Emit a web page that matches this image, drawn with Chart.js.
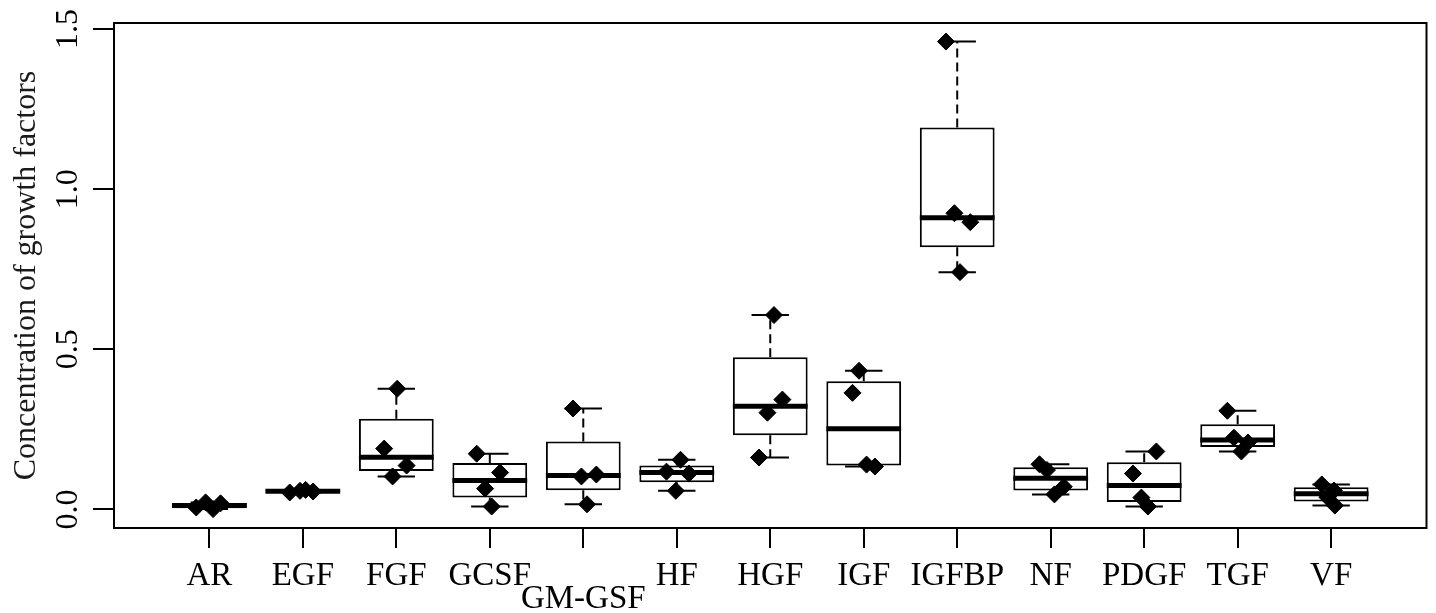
<!DOCTYPE html>
<html>
<head>
<meta charset="utf-8">
<script src="https://cdn.jsdelivr.net/npm/chart.js@4.4.1/dist/chart.umd.min.js"></script>
<style>
  html, body { margin: 0; padding: 0; background: #fff; }
  #wrap { width: 1436px; height: 613px; position: relative; }
</style>
</head>
<body>
<div id="wrap"><canvas id="growthChart"></canvas></div>
<script>
const categories = ['AR', 'EGF', 'FGF', 'GCSF', 'GM-GSF', 'HF', 'HGF', 'IGF', 'IGFBP', 'NF', 'PDGF', 'TGF', 'VF'];
const loweredLabels = ['GM-GSF'];
const yTickValues = [0, 0.5, 1.0, 1.5];

// box statistics
const whiskerLow  = [0.001, 0.053, 0.103, 0.009, 0.016, 0.058, 0.162, 0.134, 0.741, 0.047, 0.009, 0.181, 0.012];
const boxLow      = [0.004, 0.055, 0.120, 0.037, 0.060, 0.085, 0.232, 0.137, 0.819, 0.059, 0.023, 0.195, 0.025];
const medians     = [0.012, 0.057, 0.163, 0.090, 0.106, 0.115, 0.322, 0.252, 0.911, 0.097, 0.075, 0.217, 0.049];
const boxHigh     = [0.020, 0.060, 0.283, 0.145, 0.212, 0.137, 0.475, 0.400, 1.193, 0.132, 0.147, 0.266, 0.069];
const whiskerHigh = [0.022, 0.061, 0.377, 0.174, 0.315, 0.155, 0.607, 0.433, 1.461, 0.141, 0.181, 0.308, 0.078];

// the four measurements per factor and their sideways jitter (in category units)
const samples = [
  [0.006, 0.022, 0.001, 0.019],
  [0.053, 0.058, 0.061, 0.056],
  [0.190, 0.103, 0.377, 0.137],
  [0.174, 0.065, 0.009, 0.115],
  [0.315, 0.103, 0.016, 0.109],
  [0.118, 0.058, 0.155, 0.112],
  [0.162, 0.302, 0.607, 0.343],
  [0.364, 0.433, 0.140, 0.134],
  [1.461, 0.925, 0.741, 0.897],
  [0.141, 0.123, 0.047, 0.071],
  [0.112, 0.037, 0.009, 0.181],
  [0.308, 0.224, 0.181, 0.209],
  [0.078, 0.038, 0.059, 0.012]
];
const jitter = [
  [-0.14, -0.04, 0.04, 0.12],
  [-0.14, -0.03, 0.03, 0.11],
  [-0.13, -0.04, 0.01, 0.11],
  [-0.14, -0.05, 0.02, 0.11],
  [-0.11, -0.02, 0.04, 0.14],
  [-0.11, -0.01, 0.04, 0.13],
  [-0.12, -0.03, 0.04, 0.13],
  [-0.12, -0.05, 0.03, 0.12],
  [-0.12, -0.03, 0.03, 0.14],
  [-0.12, -0.04, 0.04, 0.14],
  [-0.12, -0.03, 0.04, 0.13],
  [-0.11, -0.04, 0.04, 0.11],
  [-0.10, -0.04, 0.03, 0.04]
];

const FONT = 'Liberation Serif, Times New Roman, serif';
const pos = categories.map((c, i) => i + 1);

const boxData = pos.map((x, i) => ({ x: x, y: [boxLow[i], boxHigh[i]] }));
const medianData = pos.map((x, i) => ({ x: x, y: medians[i] }));
const capData = pos.flatMap((x, i) => [{ x: x, y: whiskerLow[i] }, { x: x, y: whiskerHigh[i] }]);
const whiskerData = pos.flatMap((x, i) => [
  { x: x, y: boxHigh[i] }, { x: x, y: whiskerHigh[i] }, { x: x, y: null },
  { x: x, y: boxLow[i] }, { x: x, y: whiskerLow[i] }, { x: x, y: null }
]);
const pointData = samples.flatMap((vals, i) => vals.map((v, j) => ({ x: pos[i] + jitter[i][j], y: v })));

// pixels per category on the x scale
function unitPx(chart) {
  const sx = chart.scales.x;
  return sx.getPixelForValue(1) - sx.getPixelForValue(0);
}

const framePlugin = {
  id: 'frame',
  beforeDraw(chart) {
    const ctx = chart.ctx;
    ctx.save();
    ctx.fillStyle = '#fff';
    ctx.fillRect(0, 0, chart.width, chart.height);
    ctx.restore();
  },
  beforeDatasetsDraw(chart) {
    const { left, top, right, bottom } = chart.chartArea;
    const ctx = chart.ctx;
    ctx.save();
    ctx.strokeStyle = '#000';
    ctx.lineWidth = 2;
    ctx.strokeRect(left, top, right - left, bottom - top);
    ctx.restore();
  }
};

new Chart(document.getElementById('growthChart'), {
  type: 'scatter',
  data: {
    datasets: [
      {
        type: 'scatter',
        data: pointData,
        order: 1,
        pointStyle: 'rectRot',
        pointRadius: 8.5,
        pointBackgroundColor: '#000',
        pointBorderColor: '#000',
        pointBorderWidth: 1
      },
      {
        type: 'scatter',
        data: medianData,
        order: 2,
        pointStyle: 'line',
        pointRadius: ctx => unitPx(ctx.chart) * 0.4,
        pointBorderColor: '#000',
        pointBorderWidth: 5
      },
      {
        type: 'scatter',
        data: capData,
        order: 3,
        pointStyle: 'line',
        pointRadius: ctx => unitPx(ctx.chart) * 0.2,
        pointBorderColor: '#000',
        pointBorderWidth: 2
      },
      {
        type: 'line',
        data: whiskerData,
        order: 4,
        borderColor: '#000',
        borderWidth: 2,
        borderDash: [9, 5],
        pointRadius: 0,
        spanGaps: false,
        fill: false
      },
      {
        type: 'bar',
        data: boxData,
        order: 5,
        backgroundColor: '#fff',
        borderColor: '#000',
        borderWidth: 2,
        borderSkipped: false,
        barPercentage: 0.8,
        categoryPercentage: 1.0
      }
    ]
  },
  options: {
    responsive: true,
    maintainAspectRatio: false,
    animation: false,
    events: [],
    layout: { padding: { left: 0, top: 23, right: 4, bottom: 0 } },
    plugins: {
      legend: { display: false },
      tooltip: { enabled: false }
    },
    scales: {
      x: {
        type: 'linear',
        min: -0.02,
        max: 14.02,
        offset: false,
        afterBuildTicks: s => { s.ticks = pos.map(v => ({ value: v })); },
        afterFit: s => { s.height = 85; },
        border: { display: false },
        grid: { drawOnChartArea: false, offset: false, tickLength: 20, color: '#000', lineWidth: 2 },
        ticks: {
          autoSkip: false,
          minRotation: 0,
          maxRotation: 0,
          padding: 17,
          color: '#000',
          font: { family: FONT, size: 33, lineHeight: '23px' },
          callback: v => {
            const name = categories[v - 1];
            return loweredLabels.includes(name) ? ['', name] : name;
          }
        }
      },
      y: {
        type: 'linear',
        min: -0.058,
        max: 1.519,
        afterBuildTicks: s => { s.ticks = yTickValues.map(v => ({ value: v })); },
        afterFit: s => { s.width = 114; },
        border: { display: false },
        grid: { drawOnChartArea: false, tickLength: 21, color: '#000', lineWidth: 2 },
        ticks: {
          minRotation: 90,
          maxRotation: 90,
          crossAlign: 'center',
          padding: 4,
          color: '#000',
          font: { family: FONT, size: 32, lineHeight: '23px' },
          callback: v => v.toFixed(1)
        },
        title: {
          display: true,
          text: 'Concentration of growth factors',
          color: '#1a1a1a',
          font: { family: FONT, size: 32 },
          padding: { top: 7, bottom: 0 }
        }
      }
    }
  },
  plugins: [framePlugin]
});
</script>
</body>
</html>
